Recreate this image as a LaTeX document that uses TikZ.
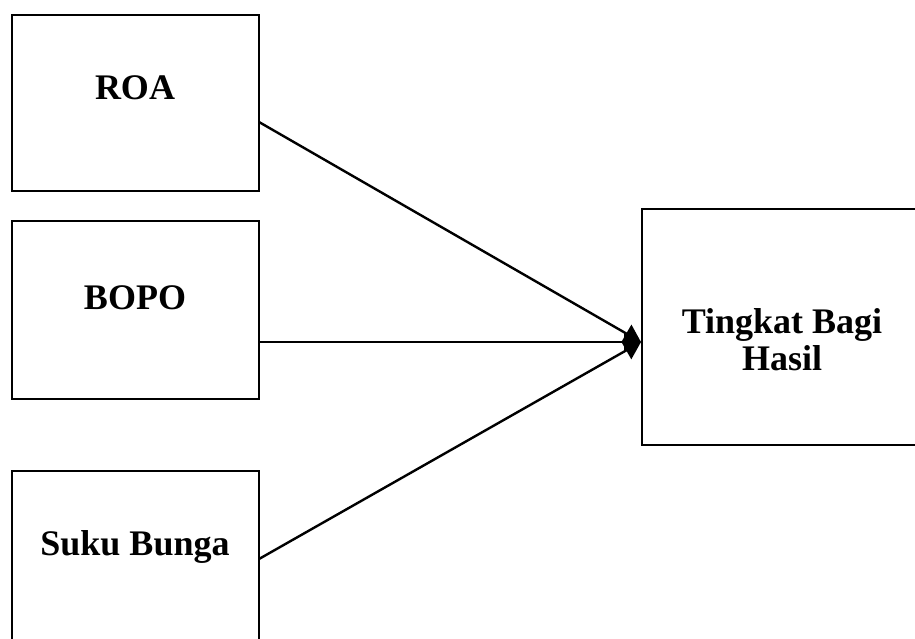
\documentclass[tikz,border=0pt]{standalone}
\usepackage{fontspec}
\setmainfont{Liberation Serif}
\usetikzlibrary{arrows.meta}
\begin{document}
\begin{tikzpicture}[x=1pt,y=-1pt,
  box/.style={draw,line width=2.2pt,inner sep=0pt},
  lbl/.style={font=\fontsize{36}{37}\selectfont\bfseries,align=center,inner sep=0pt},
  conn/.style={line width=2.4pt,-{Triangle[length=17pt,width=20pt]}}]
\useasboundingbox (0,0) rectangle (915,639);
\begin{scope}
\clip (0,0) rectangle (915,639);
\node[box,minimum width=247pt,minimum height=176pt] (roa) at (135.5,103) {};
\node[box,minimum width=247pt,minimum height=178pt] (bopo) at (135.5,310) {};
\node[box,minimum width=247pt,minimum height=229pt] (suku) at (135.5,585.5) {};
\node[box,minimum width=288pt,minimum height=236pt] (thb) at (786,327) {};
\end{scope}
\node[lbl] (troa) at (135,88) {ROA};
\node[lbl] (tbopo) at (135,298) {BOPO};
\node[lbl] (tsuku) at (135,547) {Suku Bunga};
\node[lbl] (tthb) at (782,340) {Tingkat Bagi\\Hasil};
\coordinate (sroa) at (259,122);
\coordinate (sbopo) at (259,342);
\coordinate (ssuku) at (259,559);
\coordinate (tip) at (641,342);
\draw[conn] (sroa) -- (tip);
\draw[conn] (sbopo) -- (tip);
\draw[conn] (ssuku) -- (tip);
\end{tikzpicture}
\end{document}
